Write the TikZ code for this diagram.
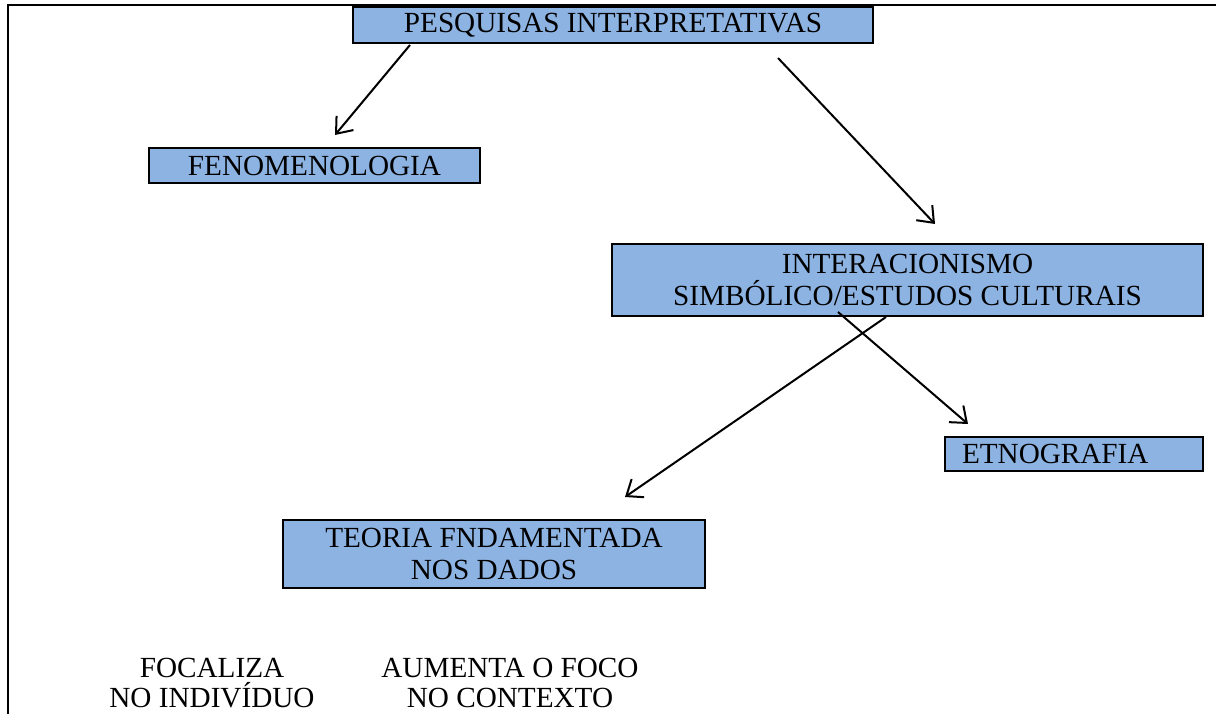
\documentclass[tikz,border=0pt]{standalone}
\usepackage{fontspec}
\setmainfont{Liberation Serif}
\usetikzlibrary{arrows.meta,calc}
\definecolor{boxblue}{HTML}{8DB3E2}
\tikzstyle{box}=[draw, line width=1pt, fill=boxblue, inner sep=0pt, align=center,
    font=\fontsize{14.6}{16}\selectfont]
\tikzstyle{plaintext}=[inner sep=0pt, align=center, font=\fontsize{14.6}{15}\selectfont]
\tikzstyle{link}=[-{Straight Barb[length=7pt,width=11pt]}, line width=1pt]

\begin{document}
\begin{tikzpicture}[x=0.5pt,y=-0.5pt]
	\useasboundingbox (0,0) rectangle (1216,713);
	\clip (0,0) rectangle (1216,713);
	% Frame round the picture
	\draw[line width=1.3pt] (1216,5) -- (8,5) -- (8,730);

	% Define the nodes in the picture
	\node (pesq)[box, minimum width=260pt, minimum height=18pt] at (613,25) {PESQUISAS INTERPRETATIVAS};
	\node (feno)[box, minimum width=165.5pt, minimum height=17.5pt] at (314.5,165.5) {FENOMENOLOGIA};
	\node (inter)[box, minimum width=295.5pt, minimum height=36pt] at (907.5,280) {INTERACIONISMO\\SIMBÓLICO/ESTUDOS CULTURAIS};
	\node (etno)[box, text width=112pt, align=left, inner xsep=8.5pt, minimum height=17pt] at (1074,454) {ETNOGRAFIA};
	\node (teoria)[box, minimum width=211pt, minimum height=34pt] at (494,554) {TEORIA FNDAMENTADA\\NOS DADOS};
	\node (foc)[plaintext] at (212,683) {FOCALIZA\\NO INDIVÍDUO};
	\node (aum)[plaintext] at (510,683) {AUMENTA O FOCO\\NO CONTEXTO};

	% Define the edges in the picture
	\draw[link] ($(pesq.south)+(-203,1)$) -- ($(feno.north)+(20.5,-12)$);
	\draw[link] ($(pesq.south)+(165,14)$) -- ($(inter.north)+(27.5,-19)$);
	\draw[link] ($(inter.south)+(-21.5,0)$) -- ($(teoria.north)+(131,-22)$);
	\draw[link] ($(inter.south)+(-69.5,-5)$) -- ($(etno.north)+(-106,-12)$);
\end{tikzpicture}
\end{document}
